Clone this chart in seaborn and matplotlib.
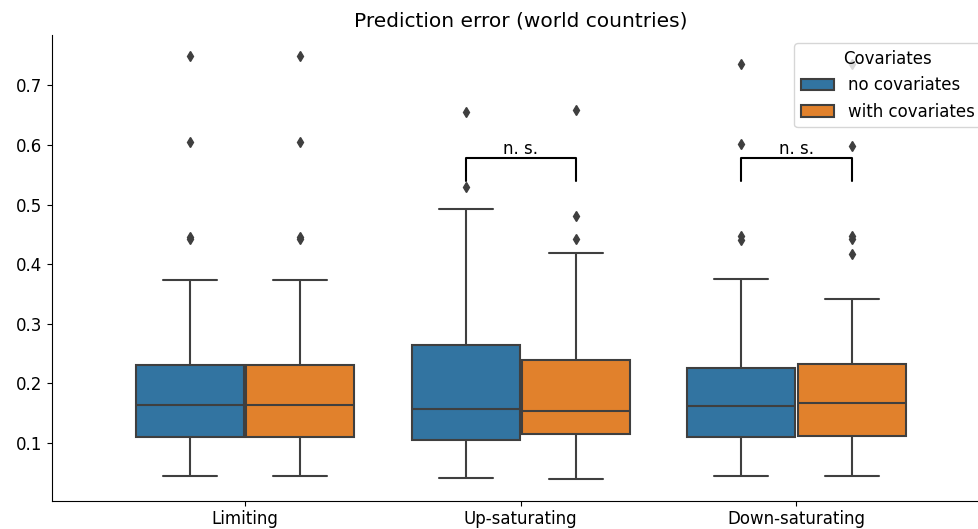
import pandas as pd
import matplotlib
matplotlib.use("Agg")
import matplotlib.pyplot as plt
import seaborn as sns

# --- Data ---
CATEGORIES = ["Limiting", "Up-saturating", "Down-saturating"]
HUES = ["no covariates", "with covariates"]

limiting_nocov = [0.045, 0.062, 0.078, 0.091, 0.102, 0.1106, 0.121, 0.133, 0.144, 0.155, 0.1637,
                  0.174, 0.186, 0.199, 0.214, 0.2307, 0.3737, 0.443, 0.446, 0.605, 0.749]
limiting_cov = [0.045, 0.062, 0.078, 0.091, 0.102, 0.1106, 0.121, 0.133, 0.144, 0.155, 0.1637,
                0.174, 0.186, 0.199, 0.214, 0.2307, 0.3737, 0.443, 0.446, 0.605, 0.749]
up_nocov = [0.041, 0.058, 0.072, 0.086, 0.097, 0.105, 0.114, 0.125, 0.137, 0.148, 0.158,
            0.172, 0.189, 0.212, 0.238, 0.2642, 0.318, 0.392, 0.4927, 0.530, 0.655]
up_cov = [0.039, 0.061, 0.079, 0.094, 0.106, 0.115, 0.123, 0.131, 0.139, 0.146, 0.1536,
          0.163, 0.176, 0.192, 0.213, 0.240, 0.305, 0.4184, 0.442, 0.481, 0.659]
down_nocov = [0.0447, 0.063, 0.079, 0.092, 0.103, 0.1106, 0.120, 0.131, 0.142, 0.152, 0.162,
              0.172, 0.183, 0.196, 0.210, 0.226, 0.376, 0.440, 0.448, 0.602, 0.736]
down_cov = [0.0447, 0.060, 0.073, 0.085, 0.095, 0.104, 0.112, 0.121, 0.130, 0.139, 0.148, 0.157,
            0.1665, 0.176, 0.185, 0.195, 0.205, 0.218, 0.2325, 0.341, 0.417, 0.443, 0.447, 0.599, 0.736]

# significance brackets: (category, bottom of legs, top bar, label)
BRACKETS = [("Up-saturating", 0.539, 0.579, "n. s."),
            ("Down-saturating", 0.539, 0.579, "n. s.")]

groups = {
    ("Limiting", "no covariates"): limiting_nocov,
    ("Limiting", "with covariates"): limiting_cov,
    ("Up-saturating", "no covariates"): up_nocov,
    ("Up-saturating", "with covariates"): up_cov,
    ("Down-saturating", "no covariates"): down_nocov,
    ("Down-saturating", "with covariates"): down_cov,
}
rows = []
for (cat, hue), vals in groups.items():
    for v in vals:
        rows.append({"model": cat, "Covariates": hue, "error": v})
df = pd.DataFrame(rows)

# --- Style ---
sns.set_style("ticks")
plt.rcParams["font.family"] = ["DejaVu Sans"]
plt.rcParams.update({
    "font.size": 12,
    "text.color": "black",
    "axes.labelcolor": "black",
    "axes.edgecolor": "black",
    "xtick.color": "black",
    "ytick.color": "black",
})

fig = plt.figure(figsize=(9.79, 5.29), dpi=100)
ax = fig.add_axes([0.0531, 0.0537, 0.9576, 0.880])

sns.boxplot(data=df, x="model", y="error", hue="Covariates",
            order=CATEGORIES, hue_order=HUES,
            width=0.8, gap=0.02, linewidth=1.5, linecolor="#3f3f3f",
            fliersize=5, flierprops=dict(marker="d", markerfacecolor="#3f3f3f",
                                         markeredgecolor="#3f3f3f"),
            ax=ax)

ax.set_xlim(-0.7, 2.7)

# significance brackets
for cat, y0, y1, label in BRACKETS:
    xc = CATEGORIES.index(cat)
    xl, xr = xc - 0.2, xc + 0.2
    ax.plot([xl, xl, xr, xr], [y0, y1, y1, y0], color="black", lw=1.5)
    ax.text(xc, y1, label, ha="center", va="bottom", fontsize=12)

ax.set_xlabel("")
ax.set_ylabel("")
ax.set_title("Prediction error (world countries)", fontsize=14.5)
ax.tick_params(labelsize=12)
sns.despine(ax=ax)

leg = ax.legend(title="Covariates", loc="upper right", fontsize=12, title_fontsize=12)

fig.savefig("out.png", dpi=100)
